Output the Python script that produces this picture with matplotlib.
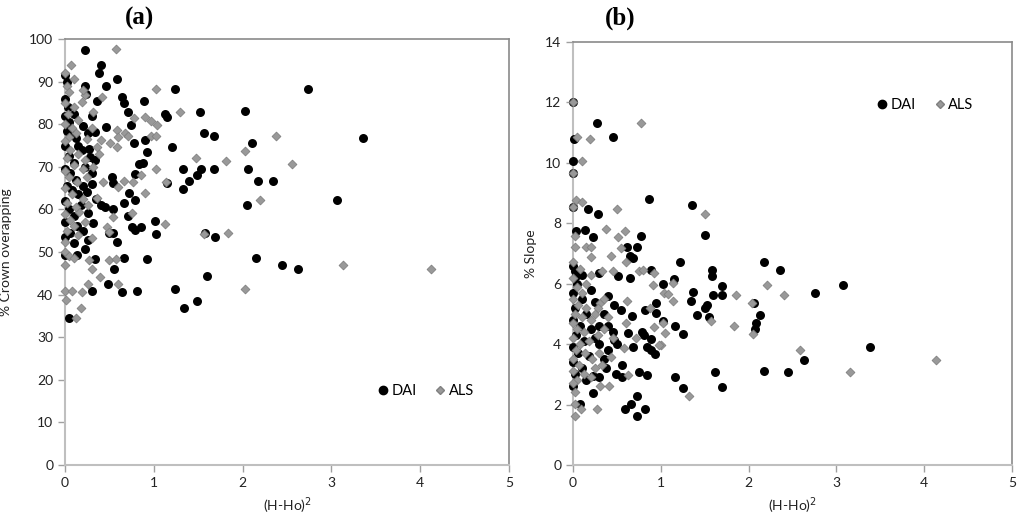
import numpy as np
import matplotlib
matplotlib.use("Agg")
import matplotlib.pyplot as plt
from matplotlib.lines import Line2D

# (H-Ho)^2 vs % crown overlapping  -- panel (a)
dai_a = [
    (1.24, 88.3), (2.74, 88.3), (1.13, 82.3), (1.15, 81.8), (1.52, 82.9), (2.03, 83.1),
    (1.56, 77.9), (1.68, 77.2), (2.11, 75.5), (3.36, 76.8), (1.20, 74.7), (1.33, 69.6),
    (1.53, 69.6), (1.68, 69.6), (2.06, 69.6), (1.40, 66.7), (1.49, 68.0), (1.33, 64.8),
    (2.17, 66.6), (2.34, 66.6), (1.15, 66.3), (2.05, 61.0), (3.06, 62.3), (1.01, 57.3),
    (1.02, 54.2), (1.58, 54.4), (1.69, 53.6), (2.15, 48.6), (2.44, 46.9), (2.62, 46.1),
    (1.60, 44.3), (1.24, 41.4), (1.49, 38.6), (1.34, 36.9),
    (0.22, 97.4), (0.40, 94.0), (0.38, 92.0), (0.59, 90.5), (0.22, 89.0), (0.46, 89.0),
    (0.24, 87.1), (0.64, 86.5), (0.36, 85.5), (0.89, 85.5), (0.66, 84.9), (0.71, 82.9),
    (0.74, 79.9), (0.46, 79.4), (0.34, 78.2), (0.26, 77.9), (0.90, 76.3), (0.78, 75.5),
    (0.12, 76.7), (0.92, 73.5), (0.27, 74.1), (0.19, 73.9), (0.34, 71.6), (0.28, 72.4),
    (0.83, 70.7), (0.88, 71.0), (0.23, 70.0), (0.53, 67.7), (0.79, 68.3), (0.54, 66.3),
    (0.72, 63.8), (0.79, 62.2), (0.67, 61.4), (0.54, 60.2), (0.26, 59.1), (0.71, 58.4),
    (0.32, 56.9), (0.76, 55.9), (0.86, 55.9), (0.79, 55.2), (0.49, 54.4), (0.54, 54.4),
    (0.26, 52.8), (0.58, 52.3), (0.22, 50.6), (0.13, 49.3), (0.66, 48.7), (0.92, 48.4),
    (0.34, 48.3), (0.00, 49.3), (0.55, 46.1), (0.48, 42.6), (0.64, 40.7), (0.81, 40.8),
    (0.30, 40.8), (0.04, 34.6),
    (0.00, 91.5), (0.02, 90.0), (0.00, 86.0), (0.03, 84.0), (0.00, 82.0), (0.05, 80.5),
    (0.02, 78.5), (0.08, 77.5), (0.00, 75.0), (0.04, 72.5), (0.10, 71.0), (0.00, 69.5),
    (0.06, 68.5), (0.12, 67.0), (0.02, 65.5), (0.08, 64.5), (0.15, 63.5), (0.00, 62.0),
    (0.20, 65.5), (0.18, 61.0), (0.05, 60.0), (0.10, 58.5), (0.00, 57.0), (0.14, 56.0),
    (0.06, 54.5), (0.20, 55.0), (0.00, 53.5), (0.10, 52.0), (0.30, 66.0), (0.25, 64.0),
    (0.35, 62.5), (0.40, 61.0), (0.45, 60.5), (0.30, 68.5), (0.15, 75.0), (0.20, 79.5),
    (0.10, 82.5), (0.30, 82.0),
]
als_a = [
    (1.02, 88.3), (1.30, 82.8), (0.97, 80.8), (1.04, 79.9), (0.97, 77.2), (1.03, 77.2),
    (2.38, 77.2), (2.03, 73.6), (1.48, 72.1), (1.81, 71.4), (2.56, 70.7), (1.02, 69.6),
    (1.14, 66.4), (2.20, 62.2), (1.13, 56.6), (1.56, 54.2), (1.84, 54.4), (3.13, 46.9),
    (4.12, 46.1), (2.03, 41.4),
    (0.57, 97.6), (0.07, 94.0), (0.10, 90.5), (0.42, 86.5), (0.23, 86.8), (0.19, 85.3),
    (0.31, 82.9), (0.78, 81.4), (0.90, 81.6), (0.58, 78.6), (0.68, 77.9), (0.71, 77.2),
    (0.60, 76.9), (0.41, 76.3), (0.51, 75.5), (0.58, 74.7), (0.36, 74.7), (0.38, 73.0),
    (0.86, 68.1), (0.77, 66.5), (0.66, 66.7), (0.43, 66.5), (0.60, 65.3), (0.36, 62.6),
    (0.90, 63.8), (0.16, 59.5), (0.26, 61.0), (0.54, 58.3), (0.75, 59.1), (0.23, 57.1),
    (0.47, 55.8), (0.49, 54.8), (0.30, 53.4), (0.00, 52.4), (0.49, 48.1), (0.57, 48.3),
    (0.27, 48.1), (0.30, 46.0), (0.39, 44.2), (0.26, 42.6), (0.60, 42.6), (0.00, 40.8),
    (0.08, 40.8), (0.19, 40.7), (0.01, 38.7), (0.18, 36.8), (0.12, 34.6),
    (0.00, 92.0), (0.02, 89.0), (0.05, 87.5), (0.00, 85.0), (0.10, 84.0), (0.03, 82.5),
    (0.00, 80.0), (0.08, 79.0), (0.04, 77.0), (0.12, 78.0), (0.00, 76.0), (0.06, 74.0),
    (0.15, 73.0), (0.02, 72.0), (0.10, 70.5), (0.00, 69.0), (0.20, 69.5), (0.05, 67.5),
    (0.14, 66.5), (0.00, 65.0), (0.08, 63.5), (0.20, 62.5), (0.02, 61.5), (0.12, 60.5),
    (0.00, 59.0), (0.06, 57.5), (0.10, 56.0), (0.02, 55.0), (0.15, 54.0), (0.00, 50.0),
    (0.05, 49.0), (0.10, 48.5), (0.00, 47.0), (0.22, 71.5), (0.25, 76.5), (0.30, 79.0),
    (0.15, 81.0), (0.20, 88.0), (0.25, 67.5), (0.32, 70.0),
]

# (H-Ho)^2 vs % slope  -- panel (b)
dai_b = [
    (1.35, 8.61), (1.50, 7.62), (1.22, 6.73), (1.58, 6.46), (1.58, 6.26), (1.15, 6.16),
    (1.03, 6.00), (1.70, 5.94), (1.37, 5.74), (1.60, 5.62), (1.70, 5.62), (1.34, 5.44),
    (1.53, 5.31), (1.50, 5.21), (1.41, 4.98), (1.55, 4.91), (2.17, 6.71), (2.36, 6.47),
    (3.08, 5.97), (2.76, 5.68), (2.06, 5.35), (2.13, 4.97), (2.08, 4.69), (2.07, 4.49),
    (1.03, 4.78), (1.16, 4.59), (1.25, 4.34), (3.38, 3.89), (2.63, 3.48), (1.62, 3.09),
    (2.18, 3.11), (2.45, 3.09), (1.16, 2.91), (1.25, 2.54), (1.70, 2.58),
    (0.00, 12.03), (0.27, 11.33), (0.01, 10.80), (0.46, 10.87), (0.00, 10.07), (0.00, 9.66),
    (0.00, 8.55), (0.17, 8.48), (0.29, 8.31), (0.87, 8.81), (0.03, 7.75), (0.14, 7.78),
    (0.23, 7.54), (0.78, 7.57), (0.61, 7.23), (0.73, 7.21), (0.65, 6.92), (0.68, 6.84),
    (0.02, 6.43), (0.03, 6.24), (0.30, 6.35), (0.51, 6.27), (0.65, 6.20), (0.89, 6.46),
    (0.95, 5.37), (0.47, 5.30), (0.55, 5.13), (0.82, 5.13), (0.94, 5.04), (0.67, 4.93),
    (0.63, 4.38), (0.79, 4.41), (0.81, 4.30), (0.89, 4.16), (0.68, 3.90), (0.84, 3.90),
    (0.89, 3.81), (0.93, 3.68), (0.47, 4.14), (0.50, 4.00), (0.56, 3.31), (0.49, 3.01),
    (0.56, 2.92), (0.75, 3.09), (0.84, 2.98), (0.73, 2.30), (0.66, 2.01), (0.59, 1.84),
    (0.82, 1.84), (0.73, 1.62), (0.08, 2.02), (0.23, 2.39), (0.23, 2.96),
    (0.00, 6.60), (0.05, 6.00), (0.00, 5.70), (0.10, 5.50), (0.02, 5.20), (0.15, 5.00),
    (0.00, 4.80), (0.08, 4.60), (0.20, 4.50), (0.03, 4.30), (0.12, 4.10), (0.00, 3.90),
    (0.25, 4.20), (0.30, 4.00), (0.06, 3.70), (0.18, 3.60), (0.00, 3.40), (0.10, 3.20),
    (0.35, 3.50), (0.40, 3.80), (0.02, 3.00), (0.15, 2.80), (0.00, 2.60), (0.30, 4.60),
    (0.35, 5.00), (0.40, 4.60), (0.45, 4.40), (0.25, 5.40), (0.20, 5.80), (0.40, 5.60),
    (0.10, 6.30), (0.30, 2.90), (0.38, 3.20),
]
als_b = [
    (1.50, 8.30), (2.21, 5.97), (2.40, 5.62), (1.86, 5.61), (2.04, 5.35), (1.83, 4.61),
    (2.05, 4.34), (2.58, 3.81), (3.16, 3.09), (4.14, 3.48), (1.32, 2.27), (1.57, 4.77),
    (1.04, 5.68), (1.08, 5.65), (1.14, 6.04), (1.14, 5.43), (1.05, 4.36), (1.00, 3.97),
    (1.03, 4.71),
    (0.00, 12.03), (0.77, 11.31), (0.05, 10.87), (0.19, 10.79), (0.10, 10.07), (0.00, 9.66),
    (0.03, 8.77), (0.10, 8.69), (0.00, 8.55), (0.50, 8.48), (0.375, 7.80), (0.59, 7.75),
    (0.51, 7.56), (0.02, 7.59), (0.02, 7.21), (0.15, 7.21), (0.20, 7.20), (0.21, 6.87),
    (0.43, 6.92), (0.55, 7.17), (0.60, 6.73), (0.00, 6.71), (0.33, 6.42), (0.46, 6.43),
    (0.75, 6.43), (0.80, 6.46), (0.92, 6.35), (0.91, 5.96), (0.31, 5.35), (0.29, 5.19),
    (0.62, 5.43), (0.88, 5.19), (0.60, 4.71), (0.92, 4.58), (0.72, 4.19), (0.98, 3.97),
    (0.58, 3.86), (0.43, 3.59), (0.63, 2.98), (0.27, 1.84), (0.02, 2.02), (0.09, 1.84),
    (0.02, 1.62), (0.41, 2.63), (0.31, 2.62), (0.02, 2.41),
    (0.00, 6.20), (0.04, 5.90), (0.10, 5.70), (0.00, 5.50), (0.06, 5.30), (0.15, 5.20),
    (0.02, 5.00), (0.10, 4.90), (0.00, 4.70), (0.20, 4.80), (0.05, 4.50), (0.12, 4.40),
    (0.00, 4.20), (0.08, 4.00), (0.18, 4.10), (0.03, 3.80), (0.14, 3.70), (0.00, 3.50),
    (0.22, 3.50), (0.07, 3.30), (0.00, 3.10), (0.12, 3.00), (0.04, 2.80), (0.20, 2.90),
    (0.00, 2.70), (0.25, 3.20), (0.30, 3.70), (0.28, 4.30), (0.35, 4.50), (0.25, 5.00),
    (0.35, 5.50), (0.15, 6.00), (0.08, 6.50), (0.20, 6.30), (0.40, 4.90), (0.45, 4.20),
    (0.33, 3.30),
]

x_ticks = [0, 1, 2, 3, 4, 5]
y_ticks_a = [0, 10, 20, 30, 40, 50, 60, 70, 80, 90, 100]
y_ticks_b = [0, 2, 4, 6, 8, 10, 12, 14]

plt.rcParams['font.family'] = ['Lato', 'DejaVu Sans']
fig = plt.figure(figsize=(10.24, 5.23), dpi=100)
ax_a = fig.add_axes([65 / 1024, 58 / 523, 444 / 1024, 426 / 523])
ax_b = fig.add_axes([573 / 1024, 58 / 523, 439 / 1024, 423 / 523])

dai_kw = dict(marker='o', s=42, color='black', linewidths=0, zorder=3)
als_kw = dict(marker='D', s=20, facecolor='#999999', edgecolor='#808080', linewidths=0.6, zorder=4)


def style(ax, yticks, ylabel, ypad):
    ax.set_xlim(0, 5)
    ax.set_ylim(yticks[0], yticks[-1])
    ax.set_xticks(x_ticks)
    ax.set_yticks(yticks)
    for side in ['top', 'right']:
        ax.spines[side].set_color('#8a8a8a')
        ax.spines[side].set_linewidth(1.2)
    for side in ['left', 'bottom']:
        ax.spines[side].set_color('#bfbfbf')
        ax.spines[side].set_linewidth(1.5)
    ax.tick_params(direction='out', length=5, width=1, color='#a0a0a0',
                   labelsize=10, labelcolor='#222222')
    ax.set_xlabel('(H-Ho)$^2$', fontsize=10, color='#222222', labelpad=5)
    ax.set_ylabel(ylabel, fontsize=10, color='#222222', labelpad=ypad)


for ax, dai, als, yt, lab, pad in [(ax_a, dai_a, als_a, y_ticks_a, '% Crown overapping', 12),
                                   (ax_b, dai_b, als_b, y_ticks_b, '% Slope', 6)]:
    dx, dy = np.array(dai).T
    axx, ayy = np.array(als).T
    ax.scatter(dx, dy, clip_on=False, **dai_kw)
    ax.scatter(axx, ayy, clip_on=False, **als_kw)
    style(ax, yt, lab, pad)

handles = [Line2D([], [], marker='o', ls='', color='black', markersize=6),
           Line2D([], [], marker='D', ls='', markerfacecolor='#999999',
                  markeredgecolor='#808080', markersize=4.5)]
for ax, anchor in [(ax_a, (0.81, 0.174)), (ax_b, (0.80, 0.851))]:
    ax.legend(handles, ['DAI', 'ALS'], loc='center', bbox_to_anchor=anchor, ncol=2,
              frameon=False, fontsize=10.5, handletextpad=0.1, columnspacing=1.1,
              handlelength=1.0)

fig.text(140 / 1024, 1 - 18 / 523, '(a)', fontsize=18, fontweight='bold',
         family='Liberation Serif', ha='center', va='center')
fig.text(620 / 1024, 1 - 18 / 523, '(b)', fontsize=18, fontweight='bold',
         family='Liberation Serif', ha='center', va='center')

fig.savefig('out.png', dpi=100)
